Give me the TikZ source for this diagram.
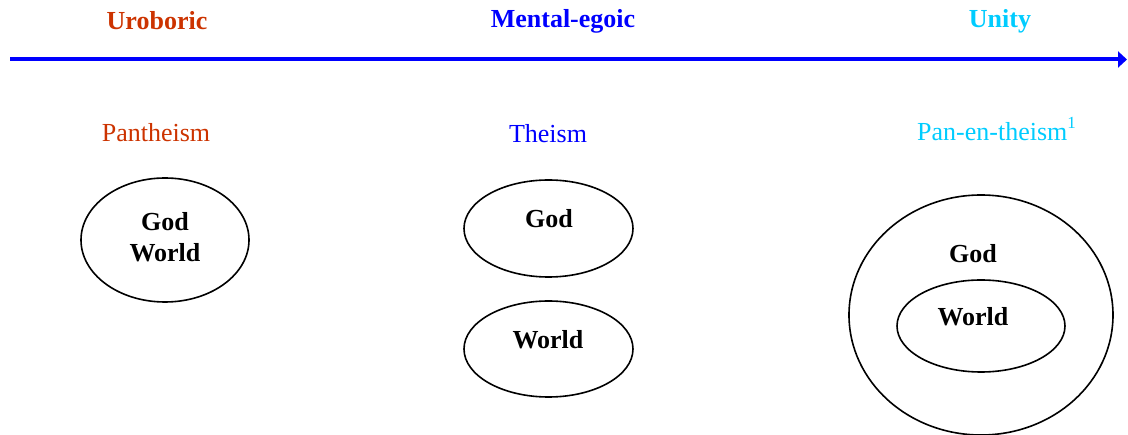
\documentclass[tikz,border=0pt]{standalone}
\usepackage{fontspec}
\setmainfont{Liberation Serif}
\usepackage{xcolor}
\usepackage{tikz}
\usetikzlibrary{arrows.meta, positioning, shapes.geometric}
\definecolor{urored}{HTML}{CC3300}
\definecolor{egoblue}{HTML}{0000FF}
\definecolor{unicyan}{HTML}{00CCFF}

\begin{document}
\begin{tikzpicture}[x=1pt, y=-1pt,
    stage/.style={font=\fontsize{26}{30}\selectfont\bfseries, inner sep=0pt},
    view/.style={font=\fontsize{26}{30}\selectfont, inner sep=0pt},
    word/.style={font=\fontsize{26}{30}\selectfont\bfseries, inner sep=0pt, align=center},
    shell/.style={draw=black, line width=1.6pt, ellipse, inner sep=0pt}]
    \useasboundingbox (0,0) rectangle (1128,435);

    % the axis
    \coordinate (ax0) at (10,59.5);
    \coordinate (ax1) at (1127,59.5);
    \draw[-{Triangle[length=9pt, width=16pt]}, line width=4pt, egoblue] (ax0) -- (ax1);

    \node[stage, text=urored] (uro) at (157,21) {Uroboric};
    \node[stage, text=egoblue] (ment) at (563,21) {Mental-egoic};
    \node[stage, text=unicyan] (uni) at (1000,21) {Unity};

    \node[view, text=urored] (pan) at (156,133) {Pantheism};
    \node[view, text=egoblue] (the) at (548,134) {Theism};
    \node[view, text=unicyan, anchor=base west] (panen) at (917,141) {Pan-en-theism\raisebox{12pt}{\fontsize{17}{18}\selectfont 1}};

    % pantheism
    \node[shell, minimum width=168pt, minimum height=124pt] (e1) at (165,240) {};
    \node[word] (gw1) at (165,237) {God\\[1pt]World};

    % theism
    \node[shell, minimum width=169pt, minimum height=97pt] (e2) at (548.5,228.5) {};
    \node[word] (g2) at (549,219) {God};
    \node[shell, minimum width=169pt, minimum height=96pt] (e3) at (548.5,349) {};
    \node[word] (w3) at (548,340) {World};

    % pan-en-theism
    \node[shell, minimum width=264pt, minimum height=240pt] (e4) at (981,315) {};
    \node[word] (g4) at (973,254) {God};
    \node[shell, minimum width=168pt, minimum height=92pt] (e5) at (981,326) {};
    \node[word] (w5) at (973,317) {World};
  \end{tikzpicture}
\end{document}
